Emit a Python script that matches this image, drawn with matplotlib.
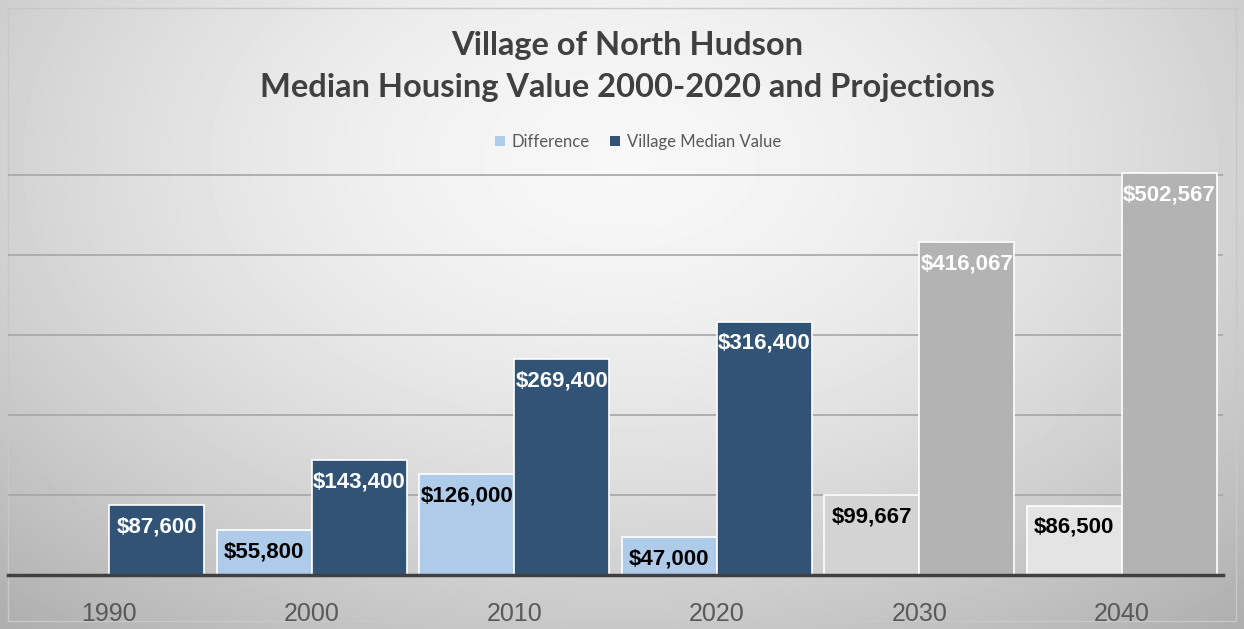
import matplotlib.pyplot as plt
import numpy as np
from matplotlib.patches import Patch

# data
years = ['1990', '2000', '2010', '2020', '2030', '2040']
difference = [0, 55800, 126000, 47000, 99667, 86500]
median_value = [87600, 143400, 269400, 316400, 416067, 502567]
projection = [False, False, False, False, True, True]

LIGHT_BLUE = '#aecbe9'
DARK_BLUE = '#315476'
GRAY_VALUE = '#b3b3b3'
GRAY_DIFF = ['#d3d3d3', '#e4e4e4']

W, H = 1244, 629
fig = plt.figure(figsize=(W / 100, H / 100), dpi=100)

# background gradient
bg = fig.add_axes([0, 0, 1, 1], zorder=-10)
yy, xx = np.mgrid[0:H, 0:W]
r = np.sqrt(((xx - 620) / 800.0) ** 2 + ((yy - 160) / 520.0) ** 2)
shade = 0.97 - 0.22 * np.clip(r, 0, 1.2) ** 1.6
bg.imshow(shade, cmap='gray', vmin=0, vmax=1, aspect='auto', extent=[0, W, H, 0])
bg.plot([8, 1236, 1236, 8, 8], [8, 8, 621, 621, 8], color='#c8c8c8', lw=1)
bg.set_xlim(0, W)
bg.set_ylim(H, 0)
bg.axis('off')

# plot area (baseline at y=575 px, 80 px per 100k)
ymax = 520000
ax_h = 80 * ymax / 100000 / H
ax = fig.add_axes([8 / W, (H - 575) / H, (1223 - 8) / W, ax_h])
ax.patch.set_alpha(0)

x = np.arange(len(years))
bw = 0.47
diff_colors = []
val_colors = []
gi = 0
for p in projection:
    if p:
        diff_colors.append(GRAY_DIFF[gi])
        val_colors.append(GRAY_VALUE)
        gi += 1
    else:
        diff_colors.append(LIGHT_BLUE)
        val_colors.append(DARK_BLUE)

b1 = ax.bar(x - bw / 2, difference, bw, color=diff_colors, edgecolor='white', linewidth=1.2, zorder=3)
b2 = ax.bar(x + bw / 2, median_value, bw, color=val_colors, edgecolor='white', linewidth=1.2, zorder=3)

for rect, v in zip(b1, difference):
    if v == 0:
        continue
    ax.annotate('${:,}'.format(v), (rect.get_x() + rect.get_width() / 2, v),
                xytext=(0, -8), textcoords='offset points', ha='center', va='top',
                fontsize=16, fontweight='bold', color='black', family='Liberation Sans', zorder=5)
for rect, v in zip(b2, median_value):
    ax.annotate('${:,}'.format(v), (rect.get_x() + rect.get_width() / 2, v),
                xytext=(0, -8), textcoords='offset points', ha='center', va='top',
                fontsize=16, fontweight='bold', color='white', family='Liberation Sans', zorder=5)

ax.set_xlim(-0.5, len(years) - 0.5)
ax.set_ylim(0, ymax)
ax.set_yticks([100000, 200000, 300000, 400000, 500000])
ax.yaxis.grid(True, color='#a6a6a6', linewidth=1.2, zorder=0)
ax.set_axisbelow(True)
ax.tick_params(axis='y', left=False, labelleft=False)
ax.tick_params(axis='x', bottom=False, pad=16, labelsize=18, labelcolor='#595959')
ax.set_xticks(x)
ax.set_xticklabels(years, family='Liberation Sans')
for s in ['top', 'right', 'left']:
    ax.spines[s].set_visible(False)
ax.spines['bottom'].set_color('#404040')
ax.spines['bottom'].set_linewidth(2.5)
ax.spines['bottom'].set_zorder(4)

fig.text(627 / W, 1 - 45 / H, 'Village of North Hudson', ha='center', va='center',
         fontsize=23.5, fontweight='bold', color='#404040', family='Lato')
fig.text(627 / W, 1 - 88 / H, 'Median Housing Value 2000-2020 and Projections', ha='center', va='center',
         fontsize=23.5, fontweight='bold', color='#404040', family='Lato')

handles = [Patch(facecolor=LIGHT_BLUE, edgecolor='none'), Patch(facecolor=DARK_BLUE, edgecolor='none')]
fig.legend(handles, ['Difference', 'Village Median Value'], loc='center', bbox_to_anchor=(638 / W, 1 - 142 / H),
           ncol=2, frameon=False, handlelength=0.6, handleheight=0.6, handletextpad=0.4, columnspacing=1.2,
           prop={'family': 'Lato', 'size': 12}, labelcolor='#595959')

fig.savefig('out.png', dpi=100)
